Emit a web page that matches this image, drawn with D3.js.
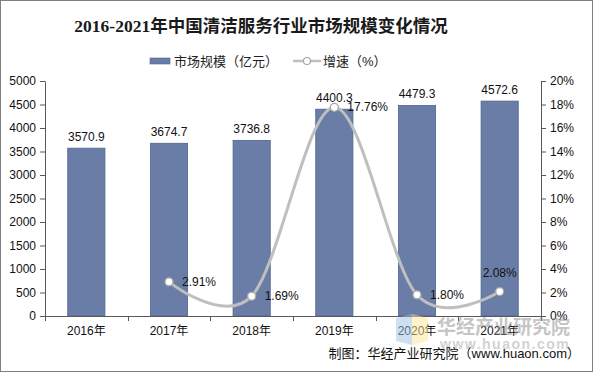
<!DOCTYPE html>
<html>
<head>
<meta charset="utf-8">
<script src="https://cdn.jsdelivr.net/npm/d3@7"></script>
<style>
  body { margin: 0; background: #fff; }
  svg text { font-family: "Liberation Sans", Arial, "Noto Sans CJK SC", sans-serif; }
</style>
</head>
<body>
<div id="chart"></div>
<script>
// chart data
const years = ['2016年', '2017年', '2018年', '2019年', '2020年', '2021年'];
const marketSize = [3570.9, 3674.7, 3736.8, 4400.3, 4479.3, 4572.6];
const growth = [null, 2.91, 1.69, 17.76, 1.80, 2.08];
const leftTicks = [0, 500, 1000, 1500, 2000, 2500, 3000, 3500, 4000, 4500, 5000];
const rightTicks = [0, 2, 4, 6, 8, 10, 12, 14, 16, 18, 20];

const W = 593, H = 372;
const margin = { top: 81, right: 52, bottom: 56, left: 45 };
const width = W - margin.left - margin.right;
const height = H - margin.top - margin.bottom;

const svg = d3.select('#chart').append('svg')
    .attr('width', W)
    .attr('height', H);

// outer frame
svg.append('rect')
    .attr('x', 0.5).attr('y', 0.5)
    .attr('width', W - 1).attr('height', H - 1)
    .attr('fill', '#fff')
    .attr('stroke', '#808080');

// title
svg.append('text')
    .attr('x', 261).attr('y', 32)
    .attr('text-anchor', 'middle')
    .style('font-family', '"Liberation Serif", "Noto Sans CJK SC", serif')
    .style('font-weight', 'bold')
    .style('font-size', '17.5px')
    .attr('fill', '#1a1a1a')
    .text('2016-2021年中国清洁服务行业市场规模变化情况');

// legend
const legend = svg.append('g');
legend.append('rect')
    .attr('x', 150).attr('y', 58).attr('width', 20).attr('height', 6)
    .attr('fill', '#6a7da6').attr('stroke', '#4f6591').attr('stroke-width', 0.6);
legend.append('text')
    .attr('x', 174).attr('y', 66)
    .style('font-size', '13px').attr('fill', '#222')
    .text('市场规模（亿元）');
legend.append('line')
    .attr('x1', 293).attr('x2', 321).attr('y1', 61).attr('y2', 61)
    .attr('stroke', '#bfbfbf').attr('stroke-width', 2.5);
legend.append('circle')
    .attr('cx', 307).attr('cy', 61).attr('r', 3.5)
    .attr('fill', '#fff').attr('stroke', '#a6a6a6').attr('stroke-width', 1.2);
legend.append('text')
    .attr('x', 323).attr('y', 66)
    .style('font-size', '13px').attr('fill', '#222')
    .text('增速（%）');

const g = svg.append('g')
    .attr('transform', `translate(${margin.left},${margin.top})`);

const x = d3.scaleBand()
    .domain(years)
    .range([0, width])
    .paddingInner(0.55)
    .paddingOuter(0.275);

const yL = d3.scaleLinear().domain([0, 5000]).range([height, 0]);
const yR = d3.scaleLinear().domain([0, 20]).range([height, 0]);

// left axis
const axL = g.append('g')
    .call(d3.axisLeft(yL).tickValues(leftTicks).tickFormat(d3.format('d'))
        .tickSize(5).tickSizeOuter(0).tickPadding(4));
// right axis
const axR = g.append('g')
    .attr('transform', `translate(${width},0)`)
    .call(d3.axisRight(yR).tickValues(rightTicks).tickFormat(d => d + '%')
        .tickSize(5).tickSizeOuter(0).tickPadding(4));

[axL, axR].forEach(a => {
    a.select('.domain').attr('stroke', '#595959');
    a.selectAll('.tick line').attr('stroke', '#595959');
    a.selectAll('text').style('font-size', '12px').attr('fill', '#111')
        .style('font-family', '"Liberation Sans", Arial, sans-serif');
});

// bars
g.selectAll('rect.bar')
    .data(years.map((d, i) => ({ year: d, v: marketSize[i] })))
    .enter().append('rect')
    .attr('class', 'bar')
    .attr('x', d => x(d.year))
    .attr('width', x.bandwidth())
    .attr('y', d => yL(d.v))
    .attr('height', d => height - yL(d.v))
    .attr('fill', '#6a7da6')
    .attr('stroke', '#4f6591')
    .attr('stroke-width', 0.8);

// bar labels
g.selectAll('text.barlab')
    .data(years.map((d, i) => ({ year: d, v: marketSize[i] })))
    .enter().append('text')
    .attr('class', 'barlab')
    .attr('x', d => x(d.year) + x.bandwidth() / 2)
    .attr('y', d => yL(d.v) - 7)
    .attr('text-anchor', 'middle')
    .style('font-size', '12px').attr('fill', '#111')
    .text(d => d.v.toFixed(1));

// x axis (category boundaries as ticks)
const step = x.step();
const xAxisG = g.append('g').attr('transform', `translate(0,${height})`);
xAxisG.append('line')
    .attr('x1', 0).attr('x2', width).attr('y1', 0.5).attr('y2', 0.5)
    .attr('stroke', '#595959');
xAxisG.selectAll('line.tk')
    .data(d3.range(years.length + 1))
    .enter().append('line')
    .attr('class', 'tk')
    .attr('x1', i => Math.round(i * step) + 0.5).attr('x2', i => Math.round(i * step) + 0.5)
    .attr('y1', 0).attr('y2', 5)
    .attr('stroke', '#595959');
xAxisG.selectAll('text')
    .data(years)
    .enter().append('text')
    .attr('x', d => x(d) + x.bandwidth() / 2)
    .attr('y', 19)
    .attr('text-anchor', 'middle')
    .style('font-size', '12px').attr('fill', '#111')
    .text(d => d);

// growth line
const pts = years.map((d, i) => ({ year: d, v: growth[i] })).filter(d => d.v !== null);
const line = d3.line()
    .x(d => x(d.year) + x.bandwidth() / 2)
    .y(d => yR(d.v))
    .curve(d3.curveCardinal.tension(0));

g.append('path')
    .datum(pts)
    .attr('d', line)
    .attr('fill', 'none')
    .attr('stroke', '#bfbfbf')
    .attr('stroke-width', 3);

g.selectAll('circle.pt')
    .data(pts)
    .enter().append('circle')
    .attr('class', 'pt')
    .attr('cx', d => x(d.year) + x.bandwidth() / 2)
    .attr('cy', d => yR(d.v))
    .attr('r', 4)
    .attr('fill', '#fff')
    .attr('stroke', '#a6a6a6')
    .attr('stroke-width', 1.3);

// growth labels: right of point, last one above
g.selectAll('text.glab')
    .data(pts)
    .enter().append('text')
    .attr('class', 'glab')
    .attr('x', (d, i) => x(d.year) + x.bandwidth() / 2 + (i === pts.length - 1 ? 0 : 13))
    .attr('y', (d, i) => yR(d.v) + (i === pts.length - 1 ? -15 : 4))
    .attr('text-anchor', (d, i) => i === pts.length - 1 ? 'middle' : 'start')
    .style('font-size', '12px').attr('fill', '#111')
    .text(d => d.v.toFixed(2) + '%');

// watermark
const wm = svg.append('g').attr('opacity', 0.5);
wm.append('path').attr('d', 'M396,318 L412,314 L412,345 L396,341 Z').attr('fill', '#9dc3e6');
wm.append('path').attr('d', 'M412,314 L428,318 L428,341 L412,345 Z').attr('fill', '#ffe699');
wm.append('text')
    .attr('x', 437).attr('y', 334)
    .style('font-size', '19px').style('font-weight', 'bold')
    .attr('fill', '#8c8c8c')
    .text('华经产业研究院');
wm.append('text')
    .attr('x', 440).attr('y', 349)
    .style('font-size', '14px').style('font-weight', 'bold')
    .style('letter-spacing', '1.5px')
    .attr('fill', '#a6a6a6')
    .text('www.huaon.com');

// source
svg.append('text')
    .attr('x', 580).attr('y', 358)
    .attr('text-anchor', 'end')
    .style('font-size', '13px').attr('fill', '#111')
    .text('制图：华经产业研究院（www.huaon.com）');
</script>
</body>
</html>
